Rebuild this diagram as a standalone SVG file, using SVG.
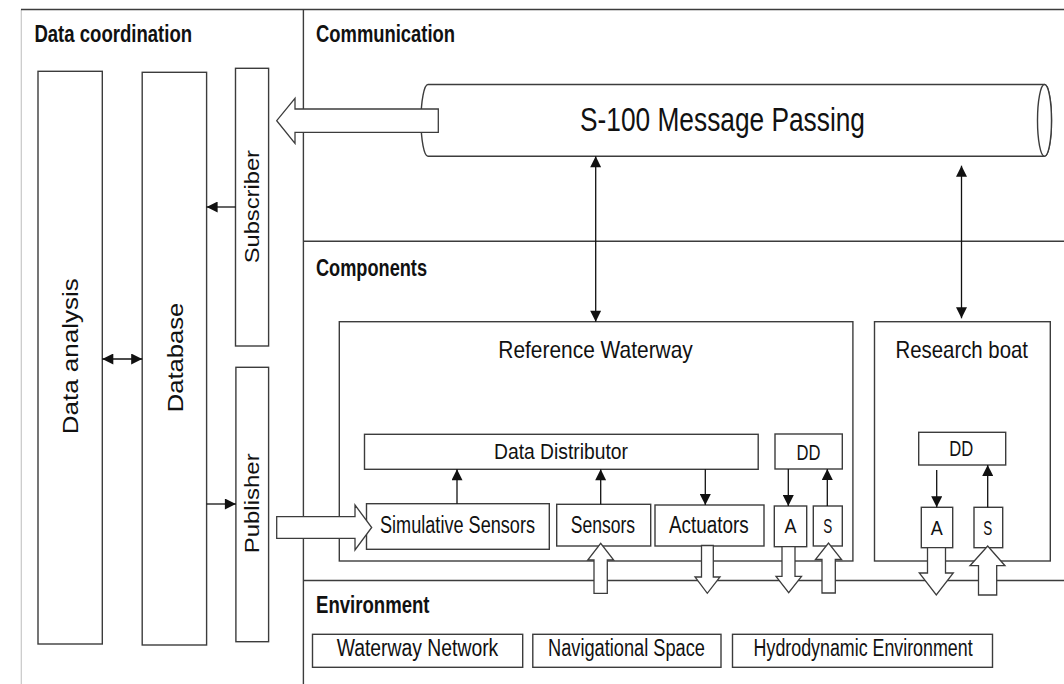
<svg xmlns="http://www.w3.org/2000/svg" width="1064" height="684" viewBox="0 0 1064 684">
<style>
.ln{stroke:#3c3c3c;stroke-width:1.4;fill:none}
.bx{stroke:#3c3c3c;stroke-width:1.4;fill:#fff}
.ha{stroke:#3c3c3c;stroke-width:1.3;fill:#fff;stroke-linejoin:miter}
.ar{stroke:#111;stroke-width:1.3;fill:none}
text{font-family:"Liberation Sans",Arial,sans-serif;fill:#111;lengthAdjust:spacingAndGlyphs}
.h{font-weight:bold;font-size:23px}
.t{font-size:23px}
</style>
<defs>
<marker id="ah" viewBox="0 0 12 12" refX="12" refY="6" markerWidth="12" markerHeight="11" markerUnits="userSpaceOnUse" orient="auto-start-reverse">
<path d="M0,0 L12,6 L0,12 Z" fill="#111"/>
</marker>
</defs>
<rect width="1064" height="684" fill="#fff"/>

<g id="panels">
<line x1="21.3" y1="9.5" x2="21.3" y2="684" stroke="#c8c8c8" stroke-width="1.2"/>
<line class="ln" x1="21" y1="9.5" x2="1064" y2="9.5"/>
<line class="ln" x1="303.4" y1="9.5" x2="303.4" y2="684"/>
<line class="ln" x1="303.4" y1="241.3" x2="1064" y2="241.3"/>
<line class="ln" x1="303.4" y1="580.5" x2="1064" y2="580.5"/>
<text class="h" x="34.4" y="41.7" textLength="157.7" lengthAdjust="spacingAndGlyphs">Data coordination</text>
<text class="h" x="316" y="41.7" textLength="139" lengthAdjust="spacingAndGlyphs">Communication</text>
<text class="h" x="316" y="276" textLength="111" lengthAdjust="spacingAndGlyphs">Components</text>
<text class="h" x="316" y="613" textLength="113.5" lengthAdjust="spacingAndGlyphs">Environment</text>
</g>

<g id="data-analysis">
<rect class="bx" x="38" y="71.3" width="64.3" height="572.7"/>
<text class="t" style="font-size:22px" transform="translate(78,434.3) rotate(-90)" textLength="156" lengthAdjust="spacingAndGlyphs">Data analysis</text>
</g>
<g id="database">
<rect class="bx" x="142.2" y="72.3" width="64.4" height="572.7"/>
<text class="t" style="font-size:22px" transform="translate(182.5,412.3) rotate(-90)" textLength="109.6" lengthAdjust="spacingAndGlyphs">Database</text>
</g>
<g id="subscriber">
<rect class="bx" x="235.5" y="68.3" width="33.1" height="277.7"/>
<text class="t" style="font-size:21px" transform="translate(259,263.3) rotate(-90)" textLength="113.3" lengthAdjust="spacingAndGlyphs">Subscriber</text>
</g>
<g id="publisher">
<rect class="bx" x="235.9" y="367.3" width="32.7" height="274.4"/>
<text class="t" style="font-size:21px" transform="translate(259,553.3) rotate(-90)" textLength="100" lengthAdjust="spacingAndGlyphs">Publisher</text>
</g>

<g id="message-passing">
<path class="bx" d="M428,84.5 L1044.5,84.5 A7,35.9 0 0 1 1044.5,156.3 L428,156.3 A7,35.9 0 0 1 428,84.5 Z"/>
<ellipse class="bx" cx="1044.5" cy="120.4" rx="7" ry="35.9"/>
<text class="t" style="font-size:33px" x="580" y="131" textLength="285" lengthAdjust="spacingAndGlyphs">S-100 Message Passing</text>
</g>

<g id="reference-waterway">
<rect class="bx" x="339.3" y="321.7" width="513.6" height="239.3"/>
<text class="t" style="font-size:24px" x="498.3" y="357.5" textLength="194.5" lengthAdjust="spacingAndGlyphs">Reference Waterway</text>
</g>
<g id="research-boat">
<rect class="bx" x="874.5" y="321.7" width="175.8" height="239.3"/>
<text class="t" style="font-size:24px" x="895.5" y="357.5" textLength="132.5" lengthAdjust="spacingAndGlyphs">Research boat</text>
</g>

<g id="data-distributor">
<rect class="bx" x="364.5" y="434.3" width="393.7" height="35"/>
<text class="t" style="font-size:22px" x="494" y="459" textLength="134" lengthAdjust="spacingAndGlyphs">Data Distributor</text>
</g>
<g id="dd-rw">
<rect class="bx" x="775" y="434" width="67.3" height="35"/>
<text class="t" style="font-size:22px" x="796.5" y="460" textLength="24" lengthAdjust="spacingAndGlyphs">DD</text>
</g>
<g id="simulative-sensors">
<rect class="bx" x="366.5" y="503.7" width="182.8" height="45.6"/>
<text class="t" x="380" y="533.3" textLength="155" lengthAdjust="spacingAndGlyphs">Simulative Sensors</text>
</g>
<g id="sensors">
<rect class="bx" x="556.7" y="504.3" width="94" height="41.7"/>
<text class="t" x="570.7" y="532.7" textLength="64.3" lengthAdjust="spacingAndGlyphs">Sensors</text>
</g>
<g id="actuators">
<rect class="bx" x="655" y="505" width="109" height="41"/>
<text class="t" x="669" y="532.7" textLength="79.7" lengthAdjust="spacingAndGlyphs">Actuators</text>
</g>
<g id="a-rw">
<rect class="bx" x="774.3" y="506" width="32.4" height="40.7"/>
<text class="t" style="font-size:21px" x="784.5" y="533.3" textLength="12" lengthAdjust="spacingAndGlyphs">A</text>
</g>
<g id="s-rw">
<rect class="bx" x="813.3" y="506" width="29" height="40"/>
<text class="t" style="font-size:21px" x="823.3" y="533.3" textLength="9" lengthAdjust="spacingAndGlyphs">S</text>
</g>
<g id="dd-rb">
<rect class="bx" x="918.7" y="432.3" width="87" height="32.7"/>
<text class="t" style="font-size:22px" x="949.3" y="456" textLength="24" lengthAdjust="spacingAndGlyphs">DD</text>
</g>
<g id="a-rb">
<rect class="bx" x="921.3" y="507.3" width="31.4" height="40.4"/>
<text class="t" style="font-size:21px" x="930.8" y="535" textLength="12" lengthAdjust="spacingAndGlyphs">A</text>
</g>
<g id="s-rb">
<rect class="bx" x="974" y="507.3" width="28.7" height="40.4"/>
<text class="t" style="font-size:21px" x="983.3" y="535" textLength="9" lengthAdjust="spacingAndGlyphs">S</text>
</g>

<g id="waterway-network">
<rect class="bx" x="312.5" y="634.3" width="210.2" height="33"/>
<text class="t" x="336.7" y="656" textLength="161.6" lengthAdjust="spacingAndGlyphs">Waterway Network</text>
</g>
<g id="navigational-space">
<rect class="bx" x="532.8" y="634.3" width="188.2" height="33"/>
<text class="t" x="548" y="656" textLength="157" lengthAdjust="spacingAndGlyphs">Navigational Space</text>
</g>
<g id="hydrodynamic-environment">
<rect class="bx" x="732.5" y="634.3" width="260" height="33"/>
<text class="t" x="753.6" y="656" textLength="219" lengthAdjust="spacingAndGlyphs">Hydrodynamic Environment</text>
</g>

<g id="connectors">
<line class="ar" x1="235.5" y1="207" x2="206.6" y2="207" marker-end="url(#ah)"/>
<line class="ar" x1="102.3" y1="359" x2="142.2" y2="359" marker-start="url(#ah)" marker-end="url(#ah)"/>
<line class="ar" x1="206.6" y1="504" x2="235.9" y2="504" marker-end="url(#ah)"/>
<line class="ar" x1="595.7" y1="156.3" x2="595.7" y2="321.7" marker-start="url(#ah)" marker-end="url(#ah)"/>
<line class="ar" x1="961.5" y1="165.7" x2="961.5" y2="318.3" marker-start="url(#ah)" marker-end="url(#ah)"/>
<line class="ar" x1="457" y1="503.7" x2="457" y2="469.3" marker-end="url(#ah)"/>
<line class="ar" x1="600.7" y1="504.3" x2="600.7" y2="469.3" marker-end="url(#ah)"/>
<line class="ar" x1="705.3" y1="469.3" x2="705.3" y2="505" marker-end="url(#ah)"/>
<line class="ar" x1="788.3" y1="469" x2="788.3" y2="506" marker-end="url(#ah)"/>
<line class="ar" x1="827.3" y1="506" x2="827.3" y2="469" marker-end="url(#ah)"/>
<line class="ar" x1="936.7" y1="470" x2="936.7" y2="507.3" marker-end="url(#ah)"/>
<line class="ar" x1="987.7" y1="507.3" x2="987.7" y2="465" marker-end="url(#ah)"/>
<polygon class="ha" points="438.3,109 295,109 295,98.3 276.7,120.7 295,143.3 295,132.3 438.3,132.3"/>
<polygon class="ha" points="276.7,516.7 355,516.7 355,505 371.7,527.5 355,550 355,538.3 276.7,538.3"/>
<polygon class="ha" points="594,593.3 594,560 587.7,560 600.7,543.3 613.7,560 607.3,560 607.3,593.3"/>
<polygon class="ha" points="701.5,545.5 713.3,545.5 713.3,577 720,577 707.3,593.3 695,577 701.5,577"/>
<polygon class="ha" points="782,546.7 795,546.7 795,576.3 801.5,576.3 788.7,592.7 776,576.3 782,576.3"/>
<polygon class="ha" points="822,593 822,559.5 815.4,559.5 828.5,543 841.6,559.5 835.3,559.5 835.3,593"/>
<polygon class="ha" points="927.5,547.7 945.5,547.7 945.5,573 953.3,573 936.3,595 919.3,573 927.5,573"/>
<polygon class="ha" points="978.5,595 978.5,565.7 970,565.7 987.7,546 1005,565.7 996.7,565.7 996.7,595"/>
</g>
</svg>
